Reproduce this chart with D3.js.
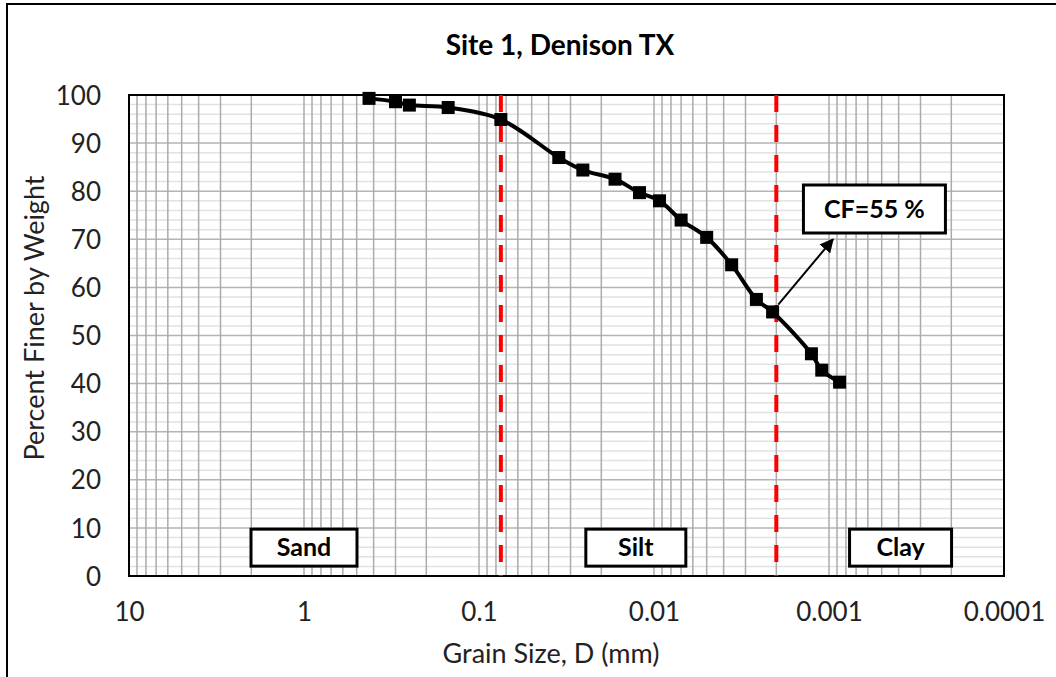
<!DOCTYPE html>
<html>
<head>
<meta charset="utf-8">
<script src="https://cdn.jsdelivr.net/npm/d3@7"></script>
<style>
  html, body { margin: 0; padding: 0; background: #fff; }
  svg { display: block; font-family: Lato, "Open Sans", sans-serif; }
</style>
</head>
<body>
<svg id="chart" width="1056" height="677"></svg>
<script>
// ---- data ----
const grainSize = [0.425, 0.30, 0.25, 0.15, 0.075, 0.035, 0.0255, 0.0167, 0.0121, 0.0093, 0.0070, 0.0050, 0.0036, 0.0026, 0.0021, 0.00126, 0.0011, 0.00087];
const percentFiner = [99.3, 98.6, 97.9, 97.4, 94.9, 87.0, 84.4, 82.5, 79.7, 78.0, 74.0, 70.4, 64.7, 57.5, 54.9, 46.2, 42.8, 40.3];
const xTicks = [10, 1, 0.1, 0.01, 0.001, 0.0001];
const xTickLabels = ["10", "1", "0.1", "0.01", "0.001", "0.0001"];
const yTicks = [0, 10, 20, 30, 40, 50, 60, 70, 80, 90, 100];
const boundaries = [0.075, 0.002];
const zoneNames = ["Sand", "Silt", "Clay"];
const zoneCenters = [1.0, 0.0127, 0.00039];
const zoneLevel = 6;
const cfLabel = "CF=55 %";
const cfPoint = { d: 0.00195, v: 56.4 };
const cfTip = { d: 0.00095, v: 70.0 };
const cfBoxCenter = { d: 0.00055, v: 76.3 };
const title = "Site 1, Denison TX";
const xTitle = "Grain Size, D (mm)";
const yTitle = "Percent Finer by Weight";

// ---- layout ----
const svg = d3.select("#chart");
const plot = { left: 129, right: 1004, top: 95, bottom: 576 };
const x = d3.scaleLog().domain([10, 0.0001]).range([plot.left, plot.right]);
const y = d3.scaleLinear().domain([0, 100]).range([plot.bottom, plot.top]);

// outer frame
svg.append("rect").attr("x", 7).attr("y", 4).attr("width", 1100).attr("height", 700)
  .attr("fill", "none").attr("stroke", "#000").attr("stroke-width", 2);

// title
svg.append("text").attr("x", 560).attr("y", 55).attr("text-anchor", "middle")
  .attr("font-size", 28).attr("font-weight", "bold").attr("fill", "#000").text(title);

// grid
const grid = svg.append("g");
const yMinor = d3.range(2, 100, 2).filter(v => v % 10 !== 0);
grid.selectAll(".hmin").data(yMinor).join("line")
  .attr("x1", plot.left).attr("x2", plot.right)
  .attr("y1", d => y(d)).attr("y2", d => y(d))
  .attr("stroke", "#e2e2e2").attr("stroke-width", 1.5);
grid.selectAll(".hmaj").data(yTicks).join("line")
  .attr("x1", plot.left).attr("x2", plot.right)
  .attr("y1", d => y(d)).attr("y2", d => y(d))
  .attr("stroke", "#b4b4b4").attr("stroke-width", 1.5);
const vLines = [];
for (let k = -4; k <= 0; k++) {
  for (let m = 1; m <= 9; m++) vLines.push(m * Math.pow(10, k));
}
grid.selectAll(".v").data(vLines).join("line")
  .attr("x1", d => x(d)).attr("x2", d => x(d))
  .attr("y1", plot.top).attr("y2", plot.bottom)
  .attr("stroke", "#ababab").attr("stroke-width", 1.5);

// plot border
svg.append("rect").attr("x", plot.left).attr("y", plot.top)
  .attr("width", plot.right - plot.left).attr("height", plot.bottom - plot.top)
  .attr("fill", "none").attr("stroke", "#000").attr("stroke-width", 2);

// boundaries (red dashed)
svg.selectAll(".bnd").data(boundaries).join("line")
  .attr("x1", d => x(d)).attr("x2", d => x(d))
  .attr("y1", plot.top).attr("y2", plot.bottom)
  .attr("stroke", "#ff0000").attr("stroke-width", 4)
  .attr("stroke-dasharray", "17,13");

// axes
const xAxis = d3.axisBottom(x).tickValues(xTicks).tickSize(0)
  .tickFormat((d, i) => xTickLabels[i]);
const gx = svg.append("g").attr("transform", `translate(0,${plot.bottom})`).call(xAxis);
gx.select(".domain").remove();
gx.selectAll("text").attr("font-size", 26).attr("font-family", "Lato, sans-serif")
  .attr("fill", "#222").attr("dy", null).attr("y", 45);

const yAxis = d3.axisLeft(y).tickValues(yTicks).tickSize(0);
const gy = svg.append("g").attr("transform", `translate(${plot.left},0)`).call(yAxis);
gy.select(".domain").remove();
gy.selectAll("text").attr("font-size", 26).attr("font-family", "Lato, sans-serif")
  .attr("fill", "#222").attr("x", -28).attr("dy", "0.35em");

// axis titles
svg.append("text").attr("x", 551).attr("y", 663).attr("text-anchor", "middle")
  .attr("font-size", 27).attr("fill", "#222").text(xTitle);
svg.append("text").attr("transform", "translate(44,318) rotate(-90)")
  .attr("text-anchor", "middle").attr("font-size", 27).attr("fill", "#222").text(yTitle);

// data line
const pts = grainSize.map((d, i) => [d, percentFiner[i]]);
const line = d3.line().x(d => x(d[0])).y(d => y(d[1])).curve(d3.curveCatmullRom.alpha(0.5));
svg.append("path").datum(pts).attr("d", line)
  .attr("fill", "none").attr("stroke", "#000").attr("stroke-width", 4);
const ms = 13;
svg.selectAll(".pt").data(pts).join("rect")
  .attr("x", d => x(d[0]) - ms / 2).attr("y", d => y(d[1]) - ms / 2)
  .attr("width", ms).attr("height", ms).attr("fill", "#000");

// zone labels
const zoneW = [106, 100, 102];
const zg = svg.selectAll(".zone").data(zoneNames).join("g")
  .attr("transform", (d, i) => `translate(${x(zoneCenters[i])},${y(zoneLevel)})`);
zg.append("rect").attr("x", (d, i) => -zoneW[i] / 2).attr("y", -18)
  .attr("width", (d, i) => zoneW[i]).attr("height", 37)
  .attr("fill", "#fff").attr("stroke", "#000").attr("stroke-width", 3);
zg.append("text").attr("text-anchor", "middle").attr("dy", "0.36em")
  .attr("font-size", 25).attr("font-weight", "bold").attr("fill", "#000").text(d => d);

// CF annotation
svg.append("defs").append("marker").attr("id", "arrow")
  .attr("viewBox", "0 0 10 10").attr("refX", 9).attr("refY", 5)
  .attr("markerWidth", 7).attr("markerHeight", 7).attr("orient", "auto")
  .append("path").attr("d", "M0,0 L10,5 L0,10 z").attr("fill", "#000");
svg.append("line")
  .attr("x1", x(cfPoint.d)).attr("y1", y(cfPoint.v))
  .attr("x2", x(cfTip.d)).attr("y2", y(cfTip.v))
  .attr("stroke", "#000").attr("stroke-width", 2).attr("marker-end", "url(#arrow)");
const cg = svg.append("g").attr("transform", `translate(${x(cfBoxCenter.d)},${y(cfBoxCenter.v)})`);
cg.append("rect").attr("x", -71).attr("y", -24).attr("width", 142).attr("height", 48)
  .attr("fill", "#fff").attr("stroke", "#000").attr("stroke-width", 3);
cg.append("text").attr("text-anchor", "middle").attr("dy", "0.36em")
  .attr("font-size", 25).attr("font-weight", "bold").attr("fill", "#000").text(cfLabel);
</script>
</body>
</html>
